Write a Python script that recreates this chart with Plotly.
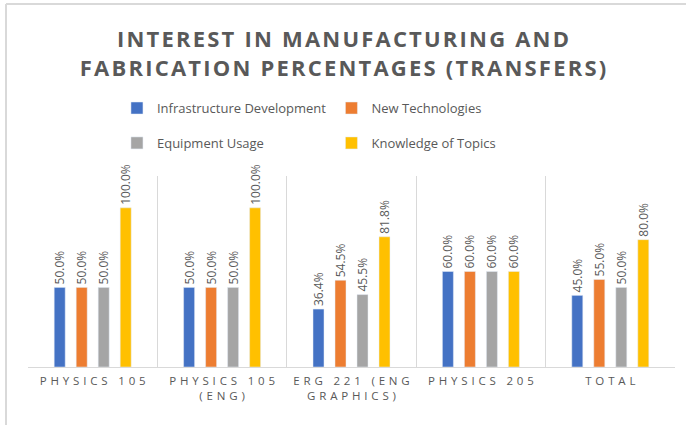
import plotly.graph_objects as go

# data
categories = ["PHYSICS 105", "PHYSICS 105|(ENG)", "ERG 221 (ENG|GRAPHICS)",
              "PHYSICS 205", "TOTAL"]
infrastructure = [0.50, 0.50, 0.364, 0.60, 0.45]
new_tech = [0.50, 0.50, 0.545, 0.60, 0.55]
equipment = [0.50, 0.50, 0.455, 0.60, 0.50]
knowledge = [1.00, 1.00, 0.818, 0.60, 0.80]

series = [
    ("Infrastructure Development", infrastructure, "#4472C4", "legend"),
    ("New Technologies", new_tech, "#ED7D31", "legend2"),
    ("Equipment Usage", equipment, "#A5A5A5", "legend"),
    ("Knowledge of Topics", knowledge, "#FFC000", "legend2"),
]

TEXT = "#595959"
GRID = "#D9D9D9"


def spaced(label, gap):
    # excel-style letter spacing
    lines = label.split("|")
    return "<br>".join(gap.join(line) for line in lines)


xlabels = [spaced(c, "\u2009\u2009") for c in categories]
title = "<br>".join(spaced(t, "\u200a") for t in
                    ["INTEREST IN MANUFACTURING AND",
                     "FABRICATION PERCENTAGES (TRANSFERS)"])

fig = go.Figure()
for name, vals, color, leg in series:
    fig.add_bar(
        x=xlabels, y=vals, name=name, marker_color=color,
        legend=leg, legendgroup=name,
        text=[f"{v:.1%}" for v in vals], textposition="outside",
        textangle=-90, cliponaxis=False, constraintext="none",
        textfont=dict(size=12, color=TEXT, family="Open Sans"),
    )

fig.add_shape(type="line", xref="paper", yref="paper", x0=-0.034, x1=1.02,
              y0=1.9, y1=1.9, line=dict(color=GRID, width=2))
fig.add_shape(type="line", xref="paper", yref="paper", x0=-0.034, x1=-0.034,
              y0=-0.5, y1=1.9, line=dict(color=GRID, width=2))

legend_common = dict(
    orientation="v", xanchor="left", yanchor="top", yref="container",
    font=dict(size=13, color=TEXT, family="Open Sans"),
    bgcolor="rgba(0,0,0,0)", traceorder="grouped", tracegroupgap=15,
    itemwidth=30,
)

fig.update_layout(
    title=dict(
        text=f"<b>{title}</b>",
        x=0.5, xanchor="center", y=1 - 47 / 425, yanchor="middle",
        font=dict(size=22, color=TEXT, family="Open Sans"),
    ),
    barmode="group", bargap=0.32, bargroupgap=0.5,
    width=686, height=425,
    margin=dict(l=28, r=11, t=176, b=58),
    paper_bgcolor="white", plot_bgcolor="white",
    legend=dict(x=0.1375, y=0.781, **legend_common),
    legend2=dict(x=0.469, y=0.781, **legend_common),
    xaxis=dict(
        tickson="boundaries", showgrid=True, gridcolor=GRID, gridwidth=1,
        showline=True, linecolor=GRID, linewidth=1, ticks="",
        tickangle=0, automargin=False, ticklabelstandoff=3,
        tickfont=dict(size=11.5, color=TEXT, family="Open Sans"),
        fixedrange=True,
    ),
    yaxis=dict(range=[0, 1.2], visible=False, fixedrange=True),
)

fig.write_html("out.html", config={"displayModeBar": False},
               post_script="document.body.style.margin='0';")
